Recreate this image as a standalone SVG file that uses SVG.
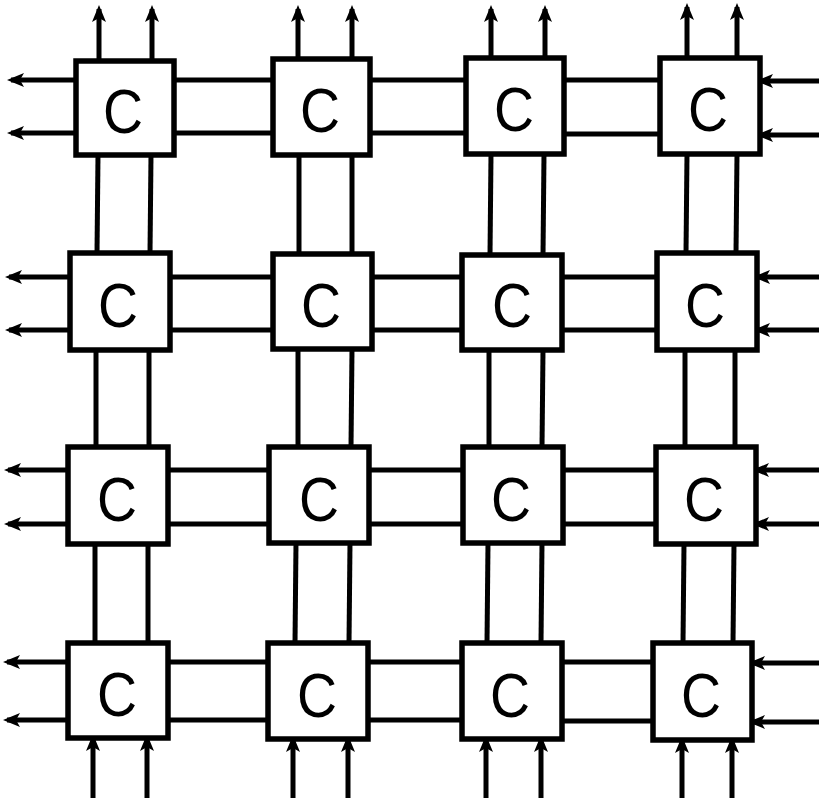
<svg xmlns="http://www.w3.org/2000/svg" width="819" height="798" viewBox="0 0 819 798">
<style>
.bg{fill:#fff}
.box{fill:#fff;stroke:#000;stroke-width:5.5}
.ln{stroke:#000;stroke-width:5;fill:none}
.ar{stroke:#000;stroke-width:5;fill:none;marker-end:url(#ah)}
.t{font-family:"Liberation Sans",Arial,sans-serif;font-size:63px;fill:#000;text-anchor:middle}
</style>
<defs>
<marker id="ah" markerUnits="userSpaceOnUse" markerWidth="20" markerHeight="16" refX="13" refY="7" orient="auto">
<path d="M0,0 L17,7 L0,14 L4,7 z" fill="#000"/>
</marker>
</defs>
<rect class="bg" width="819" height="798"/>
<g id="connectors">
<line class="ar" x1="99" y1="61" x2="99" y2="9"/>
<line class="ar" x1="152" y1="61" x2="152" y2="9"/>
<line class="ar" x1="298" y1="59" x2="298" y2="9"/>
<line class="ar" x1="352" y1="59" x2="352" y2="9"/>
<line class="ar" x1="491" y1="58" x2="491" y2="9"/>
<line class="ar" x1="545" y1="58" x2="545" y2="9"/>
<line class="ar" x1="687" y1="58" x2="687" y2="7"/>
<line class="ar" x1="737" y1="58" x2="737" y2="7"/>
<line class="ln" x1="98" y1="155" x2="97" y2="253"/>
<line class="ln" x1="151" y1="155" x2="150" y2="253"/>
<line class="ln" x1="96" y1="350" x2="96" y2="447"/>
<line class="ln" x1="149" y1="350" x2="149" y2="447"/>
<line class="ln" x1="95" y1="544" x2="95" y2="643"/>
<line class="ln" x1="148" y1="544" x2="148" y2="643"/>
<line class="ln" x1="299" y1="155" x2="299" y2="254"/>
<line class="ln" x1="352" y1="155" x2="352" y2="254"/>
<line class="ln" x1="298" y1="349" x2="298" y2="447"/>
<line class="ln" x1="352" y1="349" x2="351" y2="447"/>
<line class="ln" x1="296" y1="543" x2="295" y2="643"/>
<line class="ln" x1="350" y1="543" x2="349" y2="643"/>
<line class="ln" x1="491" y1="154" x2="490" y2="255"/>
<line class="ln" x1="544" y1="154" x2="543" y2="255"/>
<line class="ln" x1="489" y1="350" x2="489" y2="447"/>
<line class="ln" x1="543" y1="350" x2="542" y2="447"/>
<line class="ln" x1="488" y1="543" x2="487" y2="643"/>
<line class="ln" x1="542" y1="543" x2="541" y2="643"/>
<line class="ln" x1="687" y1="154" x2="686" y2="253"/>
<line class="ln" x1="737" y1="154" x2="736" y2="253"/>
<line class="ln" x1="685" y1="350" x2="685" y2="447"/>
<line class="ln" x1="735" y1="350" x2="735" y2="447"/>
<line class="ln" x1="684" y1="544" x2="683" y2="643"/>
<line class="ln" x1="734" y1="544" x2="733" y2="643"/>
<line class="ar" x1="93" y1="798" x2="93" y2="738"/>
<line class="ar" x1="147" y1="798" x2="147" y2="738"/>
<line class="ar" x1="293" y1="798" x2="293" y2="739"/>
<line class="ar" x1="348" y1="798" x2="348" y2="739"/>
<line class="ar" x1="486" y1="798" x2="486" y2="739"/>
<line class="ar" x1="541" y1="798" x2="541" y2="739"/>
<line class="ar" x1="682" y1="798" x2="682" y2="740"/>
<line class="ar" x1="732" y1="798" x2="732" y2="740"/>
<line class="ar" x1="76" y1="80" x2="11" y2="80"/>
<line class="ar" x1="76" y1="133" x2="11" y2="133"/>
<line class="ar" x1="70" y1="277" x2="9" y2="277"/>
<line class="ar" x1="70" y1="330" x2="9" y2="330"/>
<line class="ar" x1="68" y1="470" x2="8" y2="470"/>
<line class="ar" x1="68" y1="524" x2="8" y2="524"/>
<line class="ar" x1="68" y1="662" x2="7" y2="662"/>
<line class="ar" x1="68" y1="720" x2="7" y2="720"/>
<line class="ln" x1="174" y1="80" x2="273" y2="80"/>
<line class="ln" x1="174" y1="133" x2="273" y2="133"/>
<line class="ln" x1="370" y1="80" x2="466" y2="80"/>
<line class="ln" x1="370" y1="133" x2="466" y2="133"/>
<line class="ln" x1="564" y1="80" x2="660" y2="80"/>
<line class="ln" x1="564" y1="134" x2="660" y2="134"/>
<line class="ln" x1="170" y1="277" x2="273" y2="277"/>
<line class="ln" x1="170" y1="330" x2="273" y2="330"/>
<line class="ln" x1="372" y1="277" x2="462" y2="277"/>
<line class="ln" x1="372" y1="330" x2="462" y2="330"/>
<line class="ln" x1="562" y1="277" x2="657" y2="277"/>
<line class="ln" x1="562" y1="330" x2="657" y2="330"/>
<line class="ln" x1="168" y1="470" x2="269" y2="470"/>
<line class="ln" x1="168" y1="524" x2="269" y2="524"/>
<line class="ln" x1="369" y1="470" x2="463" y2="470"/>
<line class="ln" x1="369" y1="524" x2="463" y2="524"/>
<line class="ln" x1="563" y1="470" x2="656" y2="470"/>
<line class="ln" x1="563" y1="524" x2="656" y2="524"/>
<line class="ln" x1="168" y1="662" x2="268" y2="662"/>
<line class="ln" x1="168" y1="720" x2="268" y2="720"/>
<line class="ln" x1="368" y1="662" x2="462" y2="662"/>
<line class="ln" x1="368" y1="720" x2="462" y2="720"/>
<line class="ln" x1="562" y1="662" x2="653" y2="662"/>
<line class="ln" x1="562" y1="721" x2="653" y2="721"/>
<line class="ar" x1="819" y1="81" x2="760" y2="81"/>
<line class="ar" x1="819" y1="135" x2="760" y2="135"/>
<line class="ar" x1="819" y1="277" x2="757" y2="277"/>
<line class="ar" x1="819" y1="330" x2="757" y2="330"/>
<line class="ar" x1="819" y1="470" x2="756" y2="470"/>
<line class="ar" x1="819" y1="524" x2="756" y2="524"/>
<line class="ar" x1="819" y1="663" x2="752" y2="663"/>
<line class="ar" x1="819" y1="722" x2="752" y2="722"/>
</g>
<g id="c11"><rect class="box" x="76" y="61" width="98" height="94"/><text class="t" x="123" y="133" textLength="40" lengthAdjust="spacingAndGlyphs">C</text></g>
<g id="c12"><rect class="box" x="273" y="59" width="97" height="96"/><text class="t" x="320" y="132" textLength="40" lengthAdjust="spacingAndGlyphs">C</text></g>
<g id="c13"><rect class="box" x="466" y="58" width="98" height="96"/><text class="t" x="514" y="131" textLength="40" lengthAdjust="spacingAndGlyphs">C</text></g>
<g id="c14"><rect class="box" x="660" y="58" width="100" height="96"/><text class="t" x="708" y="131" textLength="40" lengthAdjust="spacingAndGlyphs">C</text></g>
<g id="c21"><rect class="box" x="70" y="253" width="100" height="97"/><text class="t" x="118" y="327" textLength="40" lengthAdjust="spacingAndGlyphs">C</text></g>
<g id="c22"><rect class="box" x="273" y="254" width="99" height="95"/><text class="t" x="321" y="327" textLength="40" lengthAdjust="spacingAndGlyphs">C</text></g>
<g id="c23"><rect class="box" x="462" y="255" width="100" height="95"/><text class="t" x="512" y="327" textLength="40" lengthAdjust="spacingAndGlyphs">C</text></g>
<g id="c24"><rect class="box" x="657" y="253" width="100" height="97"/><text class="t" x="705" y="327" textLength="40" lengthAdjust="spacingAndGlyphs">C</text></g>
<g id="c31"><rect class="box" x="68" y="447" width="100" height="97"/><text class="t" x="117" y="521" textLength="40" lengthAdjust="spacingAndGlyphs">C</text></g>
<g id="c32"><rect class="box" x="269" y="447" width="100" height="96"/><text class="t" x="319" y="521" textLength="40" lengthAdjust="spacingAndGlyphs">C</text></g>
<g id="c33"><rect class="box" x="463" y="447" width="100" height="96"/><text class="t" x="511" y="521" textLength="40" lengthAdjust="spacingAndGlyphs">C</text></g>
<g id="c34"><rect class="box" x="656" y="447" width="100" height="97"/><text class="t" x="704" y="521" textLength="40" lengthAdjust="spacingAndGlyphs">C</text></g>
<g id="c41"><rect class="box" x="68" y="643" width="100" height="95"/><text class="t" x="117" y="716" textLength="40" lengthAdjust="spacingAndGlyphs">C</text></g>
<g id="c42"><rect class="box" x="268" y="643" width="100" height="96"/><text class="t" x="317" y="717" textLength="40" lengthAdjust="spacingAndGlyphs">C</text></g>
<g id="c43"><rect class="box" x="462" y="643" width="100" height="96"/><text class="t" x="510" y="717" textLength="40" lengthAdjust="spacingAndGlyphs">C</text></g>
<g id="c44"><rect class="box" x="653" y="643" width="99" height="97"/><text class="t" x="701" y="717" textLength="40" lengthAdjust="spacingAndGlyphs">C</text></g>
</svg>
